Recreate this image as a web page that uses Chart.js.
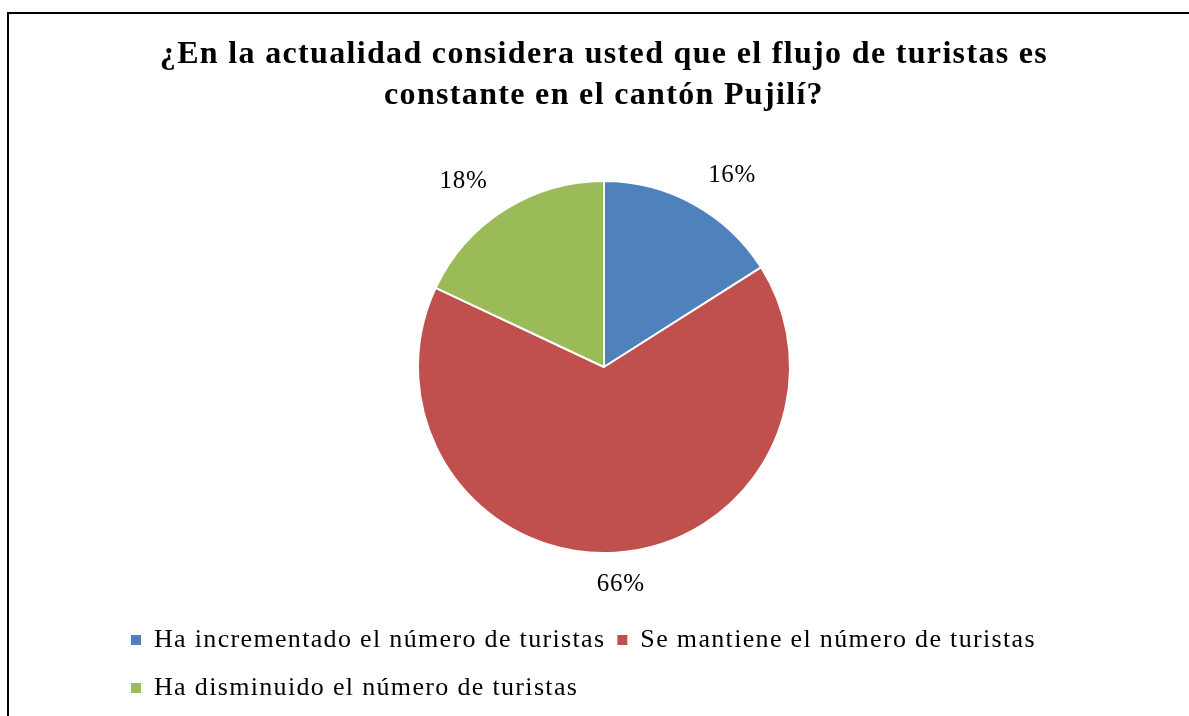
<!DOCTYPE html>
<html>
<head>
<meta charset="utf-8">
<script src="https://cdn.jsdelivr.net/npm/chart.js@4.4.1/dist/chart.umd.min.js"></script>
<style>
  html, body { margin: 0; padding: 0; background: #fff; overflow: hidden; }
  #wrap { position: relative; width: 1189px; height: 716px; }
  #frame { position: absolute; left: 7px; top: 12px; width: 1200px; height: 720px; border: 2px solid #000; box-sizing: border-box; pointer-events: none; }
  canvas { position: absolute; left: 0; top: 0; }
</style>
</head>
<body>
<div id="wrap">
  <canvas id="c" width="1189" height="716"></canvas>
  <div id="frame"></div>
</div>
<script>
const titleLines = ['¿En la actualidad considera usted que el flujo de turistas es', 'constante en el cantón Pujilí?'];
const categories = ['Ha incrementado el número de turistas', 'Se mantiene el número de turistas', 'Ha disminuido el número de turistas'];
const values = [16, 66, 18];
const colors = ['#4F81BD', '#C0504D', '#9BBB59'];

const SERIF = '"Liberation Serif", "Times New Roman", serif';
const SPACING = '1.33px';
const LEG_PAD = 12;     // horizontal gap between legend items / row padding
const LEG_ROW = 36;     // legend row item height
const LEG_SQ = 10;      // visible legend square size

const spacingPlugin = {
  id: 'spacing',
  afterInit(chart) { chart.ctx.letterSpacing = SPACING; },
  beforeUpdate(chart) { chart.ctx.letterSpacing = SPACING; },
  beforeDraw(chart) {
    const ctx = chart.ctx;
    ctx.letterSpacing = SPACING;
    // keep only a small square of each legend box visible, centred on its text
    const lg = chart.legend;
    if (!lg || !lg.legendItems) return;
    lg.legendItems.forEach((it, i) => {
      const hb = lg.legendHitBoxes && lg.legendHitBoxes[i];
      const row = hb && hb.row !== undefined ? hb.row : (i < 2 ? 0 : 1);
      const y0 = lg.top + LEG_PAD + row * (LEG_ROW + LEG_PAD);
      const a = (LEG_ROW - LEG_SQ) / 2 / LEG_ROW;
      const b = (LEG_ROW + LEG_SQ) / 2 / LEG_ROW;
      const g = ctx.createLinearGradient(0, y0, 0, y0 + LEG_ROW);
      const c = colors[it.index !== undefined ? it.index : i];
      g.addColorStop(0, 'rgba(255,255,255,0)');
      g.addColorStop(a, 'rgba(255,255,255,0)');
      g.addColorStop(a, c);
      g.addColorStop(b, c);
      g.addColorStop(b, 'rgba(255,255,255,0)');
      g.addColorStop(1, 'rgba(255,255,255,0)');
      it.fillStyle = g;
      it.lineWidth = 0;
    });
  }
};

const pctLabels = {
  id: 'pctLabels',
  afterDatasetsDraw(chart) {
    const ctx = chart.ctx;
    const meta = chart.getDatasetMeta(0);
    const total = values.reduce((a, b) => a + b, 0);
    ctx.save();
    ctx.letterSpacing = '0.7px';
    ctx.font = '25px ' + SERIF;
    ctx.fillStyle = '#000';
    ctx.textAlign = 'center';
    ctx.textBaseline = 'middle';
    meta.data.forEach((arc, i) => {
      const p = arc.getProps(['x', 'y', 'startAngle', 'endAngle', 'outerRadius'], true);
      const m = (p.startAngle + p.endAngle) / 2;
      const r = p.outerRadius + 24;
      const txt = Math.round(values[i] / total * 100) + '%';
      const w = ctx.measureText(txt).width;
      const cx = Math.cos(m), cy = Math.sin(m);
      const clamp = v => Math.max(-1, Math.min(1, v));
      const x = p.x + r * cx + (w / 2 + 4) * clamp(cx / 0.5);
      const y = p.y + r * cy + 8 * clamp(cy / 0.3);
      ctx.fillText(txt, x, y);
    });
    ctx.restore();
  }
};

new Chart(document.getElementById('c'), {
  type: 'pie',
  data: {
    labels: categories,
    datasets: [{
      data: values,
      backgroundColor: colors,
      borderColor: '#FFFFFF',
      borderWidth: 2,
      radius: 186
    }]
  },
  options: {
    responsive: false,
    animation: false,
    layout: { padding: { top: 0, left: 119, right: 100, bottom: 0 } },
    plugins: {
      tooltip: { enabled: false },
      title: {
        display: true,
        text: titleLines,
        color: '#000',
        font: { family: SERIF, size: 32, weight: 'bold', lineHeight: 41 / 32 },
        padding: { top: 34.5, bottom: 7.5 }
      },
      legend: {
        position: 'bottom',
        align: 'start',
        labels: {
          color: '#000',
          font: { family: SERIF, size: 26 },
          boxWidth: LEG_SQ,
          boxHeight: LEG_ROW,
          padding: LEG_PAD,
          generateLabels(chart) {
            return Chart.overrides.pie.plugins.legend.labels.generateLabels(chart).map(l => Object.assign(l, { lineWidth: 0, strokeStyle: l.fillStyle }));
          }
        }
      }
    }
  },
  plugins: [spacingPlugin, pctLabels]
});
</script>
</body>
</html>
